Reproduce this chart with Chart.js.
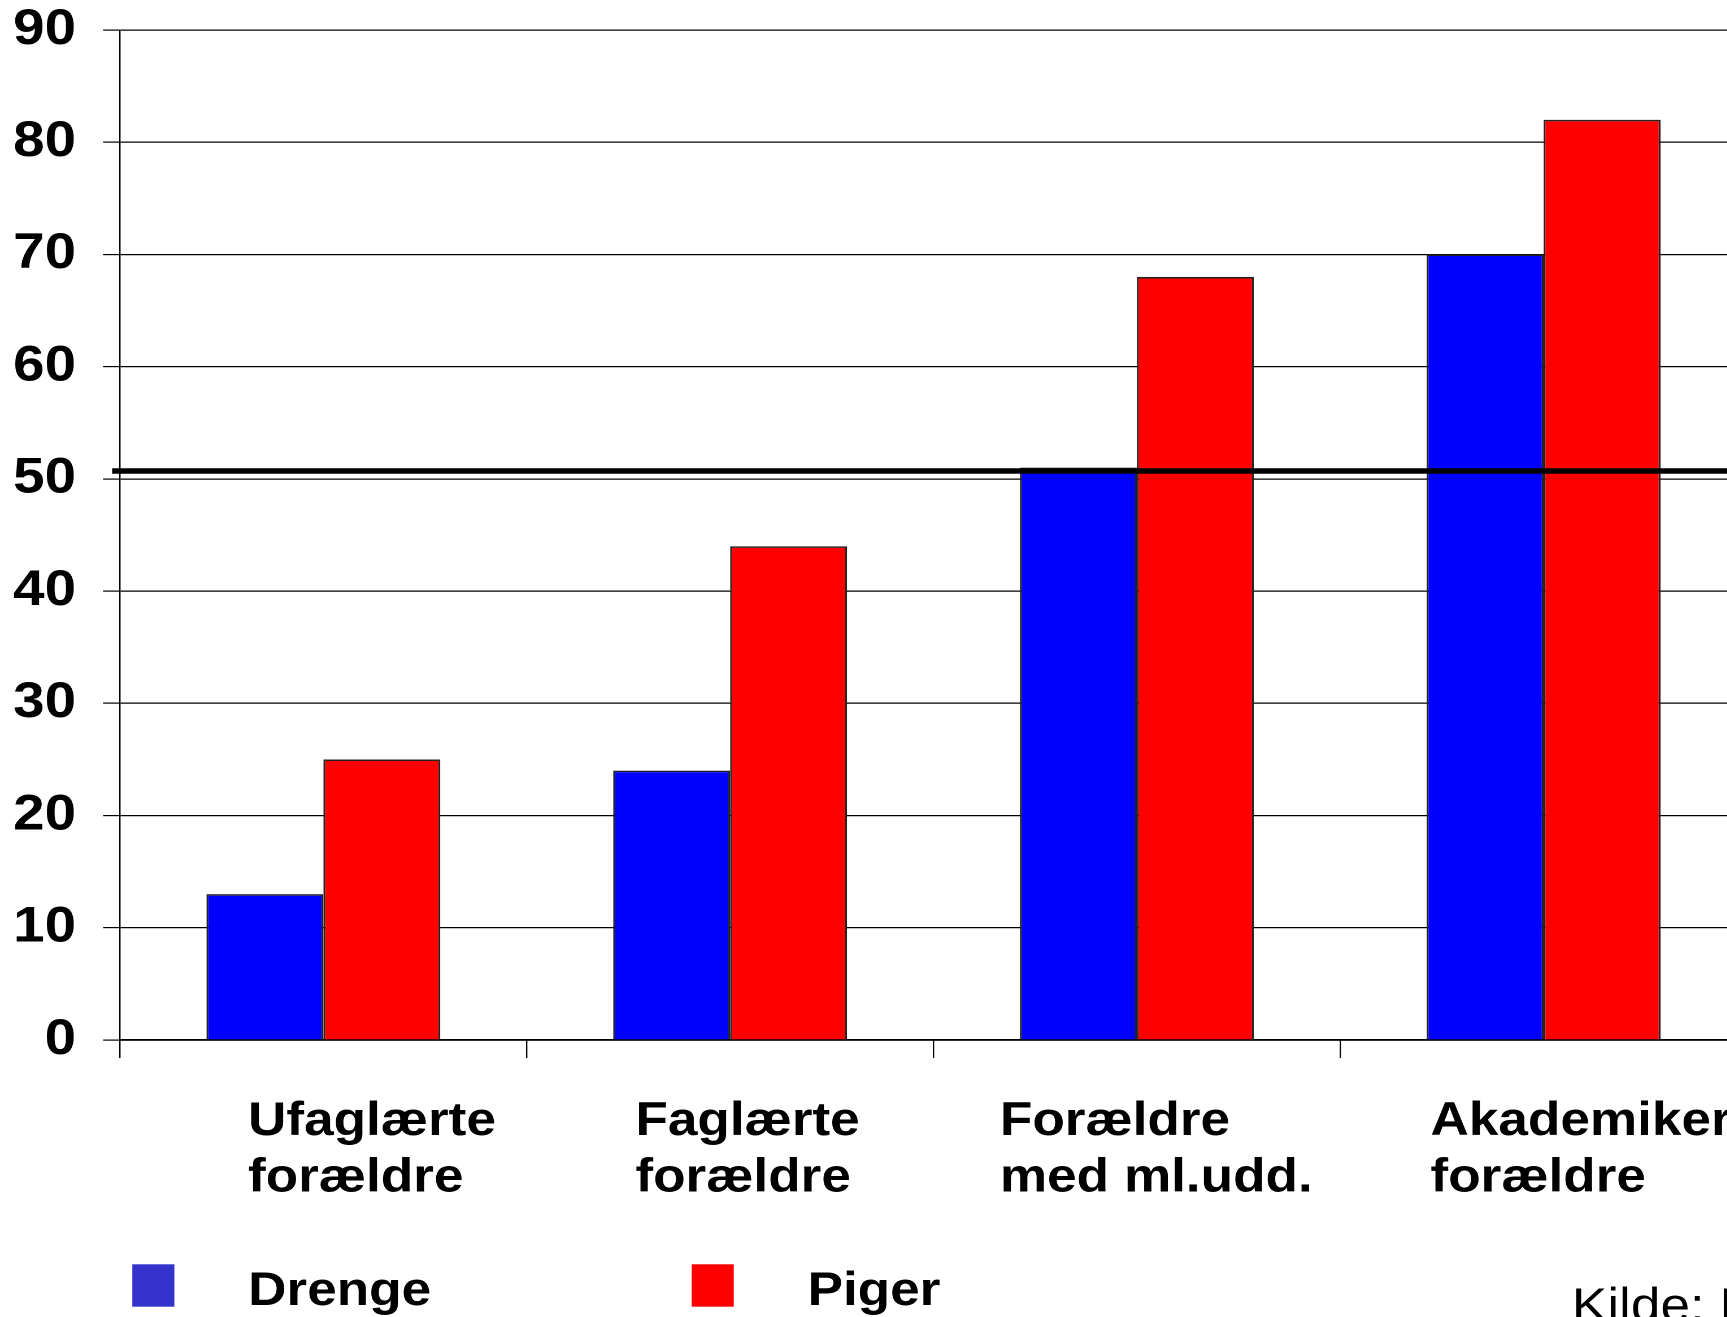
<!DOCTYPE html>
<html>
<head>
<meta charset="utf-8">
<script src="https://cdn.jsdelivr.net/npm/chart.js@4/dist/chart.umd.min.js"></script>
<style>
  html, body { margin: 0; padding: 0; background: #fff; overflow: hidden; }
  /* the source picture is stretched sideways, so the whole chart is too */
  #wrap { width: 1570px; height: 1317px; transform: scaleX(1.13); transform-origin: 0 0; }
</style>
</head>
<body>
<div id="wrap"><canvas id="myChart"></canvas></div>
<script>
const categories = [
  ['Ufaglærte', 'forældre'],
  ['Faglærte', 'forældre'],
  ['Forældre', 'med ml.udd.'],
  ['Akademiker', 'forældre']
];
const drenge = [13, 24, 51, 70];
const piger = [25, 44, 68, 82];
const yTicks = [0, 10, 20, 30, 40, 50, 60, 70, 80, 90];
const averageLine = 50.7;
const source = 'Kilde: D';

const FONT = '"Liberation Sans", Arial, Helvetica, sans-serif';

// category texts, legend, source and the thick line
const extras = {
  id: 'extras',
  afterDatasetsDraw(chart, args, opts) {
    const { ctx, chartArea, scales: { x, y } } = chart;
    ctx.save();

    const ly = y.getPixelForValue(averageLine);
    ctx.strokeStyle = '#000';
    ctx.lineWidth = 5.5;
    ctx.beginPath();
    ctx.moveTo(chartArea.left - 7, ly);
    ctx.lineTo(chart.width, ly);
    ctx.stroke();

    ctx.font = 'bold 47px ' + FONT;
    ctx.fillStyle = '#000';
    ctx.textAlign = 'left';
    ctx.textBaseline = 'alphabetic';
    chart.data.labels.forEach((lines, i) => {
      const lx = x.getPixelForValue(i) + opts.labelShift[i];
      lines.forEach((t, j) => ctx.fillText(t, lx, opts.labelBase + j * opts.lineGap));
    });

    chart.data.datasets.forEach((ds, i) => {
      const sx = opts.legendX[i];
      ctx.fillStyle = opts.legendColors[i];
      ctx.fillRect(sx, 1264.3, 37.2, 42.4);
      ctx.fillStyle = '#000';
      ctx.fillText(ds.label, sx + 102.5, 1305);
    });

    ctx.font = '47px ' + FONT;
    ctx.fillText(source, 1391, 1321);
    ctx.restore();
  }
};

const ctx = document.getElementById('myChart');

new Chart(ctx, {
  type: 'bar',
  data: {
    labels: categories,
    datasets: [
      {
        label: 'Drenge',
        data: drenge,
        backgroundColor: '#0000FF',
        borderColor: '#222',
        borderWidth: 1.6,
        borderSkipped: 'bottom'
      },
      {
        label: 'Piger',
        data: piger,
        backgroundColor: '#FF0000',
        borderColor: '#222',
        borderWidth: 1.6,
        borderSkipped: 'bottom'
      }
    ]
  },
  plugins: [extras],
  options: {
    responsive: true,
    maintainAspectRatio: false,
    devicePixelRatio: 2,
    animation: false,
    layout: { padding: { top: 30, right: 24, bottom: 259, left: 0 } },
    datasets: { bar: { categoryPercentage: 0.575, barPercentage: 1.0 } },
    plugins: {
      legend: { display: false },
      tooltip: { enabled: false },
      extras: {
        labelShift: [-66.7, -83.8, -121.2, -100.1],
        labelBase: 1135,
        lineGap: 56.7,
        legendX: [117.1, 612.1],
        legendColors: ['#3333CC', '#FF0000']
      }
    },
    scales: {
      x: {
        grid: {
          offset: true,
          drawOnChartArea: false,
          drawTicks: true,
          tickLength: 18,
          color: '#000',
          lineWidth: 1.2
        },
        border: { color: '#000', width: 1.6 },
        ticks: { display: false }
      },
      y: {
        min: yTicks[0],
        max: yTicks[yTicks.length - 1],
        afterFit(scale) { scale.width = 106.2; },
        afterBuildTicks(scale) { scale.ticks = yTicks.map(v => ({ value: v })); },
        grid: { color: '#000', lineWidth: 1.2, tickLength: 15 },
        border: { color: '#000', width: 1.2 },
        ticks: {
          padding: 23.9,
          color: '#000',
          font: { family: FONT, size: 50, weight: 'bold', lineHeight: 0.1 }
        }
      }
    }
  }
});
</script>
</body>
</html>
